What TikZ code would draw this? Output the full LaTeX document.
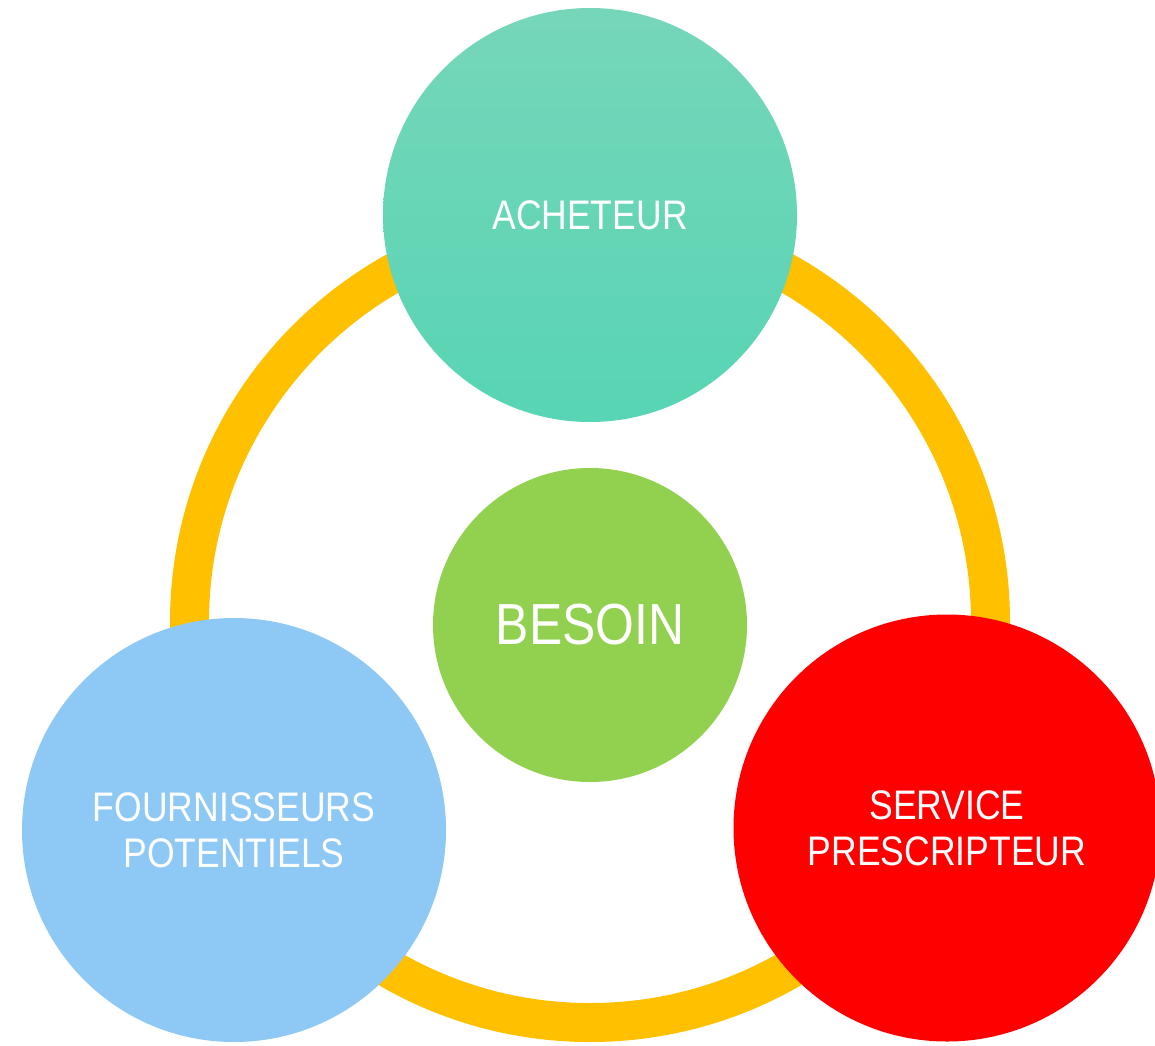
\documentclass[tikz,border=0pt]{standalone}
\usepackage{fontspec}
\setmainfont{Liberation Sans}[FakeStretch=0.86]
\definecolor{ringyellow}{HTML}{FFC000}
\definecolor{buyertop}{HTML}{76D6B9}
\definecolor{buyerbottom}{HTML}{57D5B4}
\definecolor{needgreen}{HTML}{92D050}
\definecolor{supplierblue}{HTML}{8EC8F5}
\definecolor{servicered}{HTML}{FF0000}
\tikzset{
    actor/.style={circle, inner sep=0pt, text=white, align=center, font=\fontsize{23.5}{26}\selectfont},
}
\begin{document}
\begin{tikzpicture}[x=0.2mm, y=-0.2mm]
    \useasboundingbox (0, 0) rectangle (1155, 1045);
    \node[circle, draw=ringyellow, line width=7.8mm, minimum size=160.2mm] (ring) at (590, 622) {};

    \node[actor, minimum size=82.8mm, top color=buyertop, bottom color=buyerbottom] (buyer) at (590, 215) {\raisebox{-0.7mm}{ACHETEUR}};
    \node[actor, minimum size=62.8mm, fill=needgreen, font=\fontsize{33}{36}\selectfont] (need) at (590, 625) {\raisebox{-0.9mm}{BESOIN}};
    \node[actor, minimum size=84.8mm, fill=supplierblue] (suppliers) at (234, 830) {\raisebox{-0.9mm}{FOURNISSEURS}\\\raisebox{-0.9mm}{POTENTIELS}};
    \node[actor, minimum size=85.4mm, fill=servicered] (service) at (947, 828) {\raisebox{-0.5mm}{SERVICE}\\\raisebox{-0.5mm}{PRESCRIPTEUR}};
\end{tikzpicture}
\end{document}
